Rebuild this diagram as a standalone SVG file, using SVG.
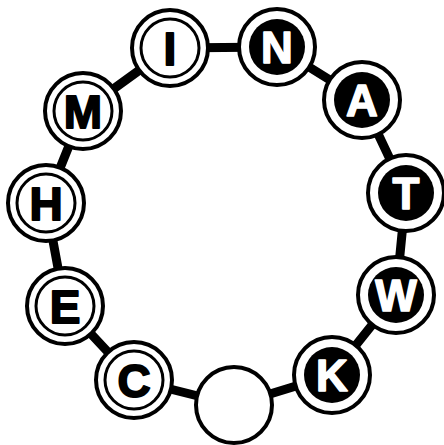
<svg xmlns="http://www.w3.org/2000/svg" width="444" height="445" viewBox="0 0 444 445">
<style>
.outer{fill:#fff;stroke:#000;stroke-width:4}
.inner{fill:none;stroke:#000;stroke-width:3}
.disc{fill:#000}
.lt{font-family:"Liberation Sans",Arial,sans-serif;font-weight:bold;font-size:46px;text-anchor:middle;fill:#000;stroke:#000;stroke-width:1.8;stroke-linejoin:round}
.dk{font-family:"Liberation Sans",Arial,sans-serif;font-weight:bold;font-size:44px;text-anchor:middle;fill:#fff;stroke:#fff;stroke-width:1.5;stroke-linejoin:round}
.link{fill:none;stroke:#000;stroke-width:9;stroke-linejoin:round}
</style>
<rect width="444" height="445" fill="#fff"/>
<g id="connectors">
<polygon class="link" points="170,48 277,47 362,100 406,193 396,295 332,375 234,405 134,380 65,306 46,203 83,111"/>
</g>
<g id="node-I"><circle class="outer" cx="170" cy="48" r="38"/><circle class="inner" cx="170" cy="48" r="29"/><text class="lt" x="170" y="65">I</text></g>
<g id="node-N"><circle class="outer" cx="277" cy="47" r="38"/><circle class="disc" cx="277" cy="47" r="28"/><text class="dk" x="277" y="63">N</text></g>
<g id="node-A"><circle class="outer" cx="362" cy="100" r="38"/><circle class="disc" cx="362" cy="100" r="28"/><text class="dk" x="362" y="116">A</text></g>
<g id="node-T"><circle class="outer" cx="406" cy="193" r="38"/><circle class="disc" cx="406" cy="193" r="28"/><text class="dk" x="406" y="209">T</text></g>
<g id="node-W"><circle class="outer" cx="396" cy="295" r="38"/><circle class="disc" cx="396" cy="295" r="28"/><text class="dk" x="396" y="311">W</text></g>
<g id="node-K"><circle class="outer" cx="332" cy="375" r="38"/><circle class="disc" cx="332" cy="375" r="28"/><text class="dk" x="332" y="391">K</text></g>
<g id="node-empty"><circle class="outer" cx="234" cy="405" r="38"/></g>
<g id="node-C"><circle class="outer" cx="134" cy="380" r="38"/><circle class="inner" cx="134" cy="380" r="29"/><text class="lt" x="134" y="397">C</text></g>
<g id="node-E"><circle class="outer" cx="65" cy="306" r="38"/><circle class="inner" cx="65" cy="306" r="29"/><text class="lt" x="65" y="323">E</text></g>
<g id="node-H"><circle class="outer" cx="46" cy="203" r="38"/><circle class="inner" cx="46" cy="203" r="29"/><text class="lt" x="46" y="220">H</text></g>
<g id="node-M"><circle class="outer" cx="83" cy="111" r="38"/><circle class="inner" cx="83" cy="111" r="29"/><text class="lt" x="83" y="128">M</text></g>
</svg>
